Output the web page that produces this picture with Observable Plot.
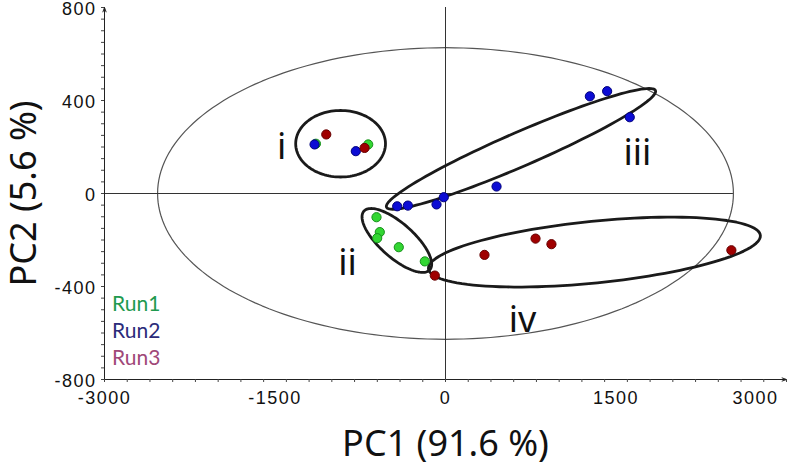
<!DOCTYPE html>
<html><head><meta charset="utf-8">
<script src="https://cdn.jsdelivr.net/npm/d3@7"></script>
<script src="https://cdn.jsdelivr.net/npm/@observablehq/plot@0.6"></script>
<style>
body{margin:0;background:#fff;}
#wrap{position:relative;width:788px;height:467px;overflow:hidden;}
#legend{position:absolute;left:112px;top:289px;font-family:Lato,"Open Sans",sans-serif;font-size:21px;line-height:27px;}
g[aria-label="x-axis tick label"] text, g[aria-label="y-axis tick label"] text{letter-spacing:1.5px;}
</style></head><body>
<div id="wrap"><div id="chart"></div><div id="legend"></div></div>
<script>
// ---- data ----
const runNames = ["Run1", "Run2", "Run3"];
const runFill = ["#33d633", "#0c0cd4", "#a00000"];
const runStroke = ["#16901a", "#00007c", "#660000"];
const legendColors = ["#1f9a4f", "#2b2b7a", "#a04878"];

const run1X = [-1140, -680, -607, -578, -601, -411, -182];
const run1Y = [214, 211, -102, -166, -192, -231, -292];
const run2X = [-1152, -789, -425, -331, -79, -15, 449, 1270, 1422, 1621];
const run2Y = [211, 182, -55, -52, -47, -16, 30, 418, 440, 328];
const run3X = [-1049, -712, -94, 343, 792, 932, 2515];
const run3Y = [254, 196, -353, -264, -194, -218, -244];

// cluster ellipses: centre, first semi-axis vector, second semi-axis vector (data units)
const clusterNames = ["i", "ii", "iii", "iv"];
const clusterCx = [-923, -428, 664, 1310];
const clusterCy = [214, -202, 192, -252];
const clusterAx = [395, 290, 1183, 1460];
const clusterAy = [0, -126, 251, 72];
const clusterBx = [0, 99, 60, 27];
const clusterBy = [143, 55, -67, -132];
const clusterLabelX = [-1442, -862, 1689, 677];
const clusterLabelY = [200, -303, 172, -548];

// Hotelling T2 ellipse
const t2Center = [0, 0];
const t2Radii = [2533, 627];

const xDomain = [-3000, 3000];
const yDomain = [-800, 800];
const xTickLabels = [-3000, -1500, 0, 1500];
const xLastTick = [3000];
const yTickLabels = [-800, -400, 0, 400, 800];
const xMinorStep = 200;
const yMinorStep = 50;

// ---- build tables ----
const points = [];
[[run1X, run1Y], [run2X, run2Y], [run3X, run3Y]].forEach(([xs, ys], k) => {
  xs.forEach((x, i) => points.push({run: runNames[k], k, x, y: ys[i]}));
});

function ellipsePts(id, cx, cy, ax, ay, bx, by, n = 120) {
  const out = [];
  for (let i = 0; i <= n; i++) {
    const t = (2 * Math.PI * i) / n;
    out.push({id, x: cx + Math.cos(t) * ax + Math.sin(t) * bx, y: cy + Math.cos(t) * ay + Math.sin(t) * by});
  }
  return out;
}
const clusterPath = clusterNames.flatMap((nm, i) =>
  ellipsePts(nm, clusterCx[i], clusterCy[i], clusterAx[i], clusterAy[i], clusterBx[i], clusterBy[i]));
const t2Path = ellipsePts("T2", t2Center[0], t2Center[1], t2Radii[0], 0, 0, t2Radii[1], 200);
const labels = clusterNames.map((nm, i) => ({nm, x: clusterLabelX[i], y: clusterLabelY[i]}));

const xMinor = d3.range(xDomain[0], xDomain[1] + 1, xMinorStep);
const yMinor = d3.range(yDomain[0], yDomain[1] + 1, yMinorStep);

const tickFont = "'Liberation Sans', Arial, sans-serif";
const titleFont = "'Noto Sans', sans-serif";

const chart = Plot.plot({
  width: 788,
  height: 467,
  marginLeft: 104,
  marginRight: 2,
  marginTop: 7,
  marginBottom: 88,
  style: {background: "#fff", overflow: "visible"},
  x: {domain: xDomain, label: null},
  y: {domain: yDomain, label: null},
  marks: [
    // Hotelling ellipse and crosshair
    Plot.line(t2Path, {x: "x", y: "y", stroke: "#555", strokeWidth: 1.2}),
    Plot.ruleY([t2Center[1]], {x1: xDomain[0], x2: t2Center[0] + t2Radii[0], stroke: "#333", strokeWidth: 1}),
    Plot.ruleX([t2Center[0]], {y1: yDomain[0], y2: yDomain[1], stroke: "#333", strokeWidth: 1}),
    // cluster ellipses
    Plot.line(clusterPath, {x: "x", y: "y", z: "id", stroke: "#1a1a1a", strokeWidth: 2.8}),
    // points
    Plot.dot(points, {x: "x", y: "y", r: 4.6, fill: d => runFill[d.k], stroke: d => runStroke[d.k], strokeWidth: 1}),
    // cluster labels
    Plot.text(labels, {x: "x", y: "y", text: "nm", fontSize: 36, fontFamily: titleFont, fill: "#111"}),
    // axes lines with arrows
    Plot.arrow([0], {x1: xDomain[0], x2: xDomain[1], y1: yDomain[0], y2: yDomain[0], stroke: "#222", strokeWidth: 1, headLength: 7, headAngle: 40}),
    Plot.arrow([0], {x1: xDomain[0], x2: xDomain[0], y1: yDomain[0], y2: yDomain[1], stroke: "#222", strokeWidth: 1, headLength: 7, headAngle: 40}),
    // minor ticks
    Plot.axisX(xMinor, {tickSize: 3, tickFormat: () => "", stroke: "#444", label: null}),
    Plot.axisY(yMinor, {tickSize: 3, tickFormat: () => "", stroke: "#444", label: null}),
    // tick labels
    Plot.axisX(xTickLabels, {tickSize: 0, tickPadding: 12, fontSize: 18, fontFamily: tickFont, fill: "#111", tickFormat: d => String(d), label: null}),
    Plot.axisX(xLastTick, {tickSize: 0, tickPadding: 12, fontSize: 18, fontFamily: tickFont, fill: "#111", textAnchor: "end", dx: -8, tickFormat: d => String(d), label: null}),
    Plot.axisY(yTickLabels, {tickSize: 0, tickPadding: 8, dy: 2, fontSize: 18, fontFamily: tickFont, fill: "#111", tickFormat: d => String(d), label: null}),
    // axis titles
    Plot.text(["PC1 (91.6 %)"], {frameAnchor: "bottom", textAnchor: "middle", lineAnchor: "middle", dy: 65, fontSize: 36, fontFamily: titleFont, fill: "#111", text: d => d}),
    Plot.text(["PC2 (5.6 %)"], {frameAnchor: "left", textAnchor: "middle", lineAnchor: "middle", dx: -80, rotate: -90, fontSize: 36, fontFamily: titleFont, fill: "#111", text: d => d})
  ]
});
document.getElementById("chart").appendChild(chart);

const legend = document.getElementById("legend");
runNames.forEach((nm, i) => {
  const d = document.createElement("div");
  d.textContent = nm;
  d.style.color = legendColors[i];
  legend.appendChild(d);
});
</script>
</body></html>
